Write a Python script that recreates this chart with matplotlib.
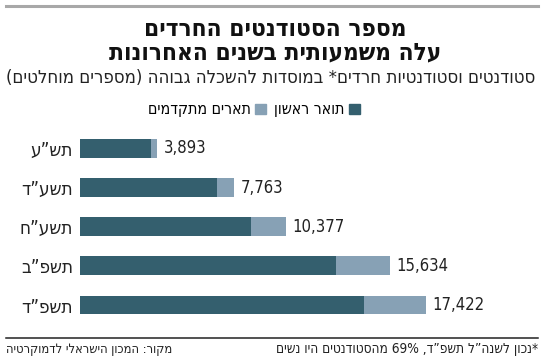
import re
import matplotlib
matplotlib.use("Agg")
import matplotlib.pyplot as plt
from matplotlib import font_manager as fm
from matplotlib.lines import Line2D
from matplotlib.patches import Patch

# data (top to bottom)
years = ["תש”ע", "תשע”ד", "תשע”ח", "תשפ”ב", "תשפ”ד"]
totals = [3893, 7763, 10377, 15634, 17422]
first_degree = [3575, 6898, 8595, 12890, 14315]
advanced = [t - f for t, f in zip(totals, first_degree)]

title = "מספר הסטודנטים החרדים\nעלה משמעותית בשנים האחרונות"
subtitle = "סטודנטים וסטודנטיות חרדים* במוסדות להשכלה גבוהה (מספרים מוחלטים)"
lbl_first = "תואר ראשון"
lbl_adv = "תארים מתקדמים"
source = "מקור: המכון הישראלי לדמוקרטיה"
note = "*נכון לשנה”ל תשפ”ד, 69% מהסטודנטים היו נשים"

DARK = "#345f6e"
LIGHT = "#87a1b5"


def find_cond(bold):
    # DejaVu Sans Condensed, upright, if it is installed
    for f in fm.fontManager.ttflist:
        if f.name != "DejaVu Sans" or f.stretch != "condensed" or f.style != "normal":
            continue
        if (f.weight == 700) == bold:
            return f.fname
    return None


COND = find_cond(False)
COND_B = find_cond(True)


def fp(size, bold=False):
    path = COND_B if bold else COND
    if path:
        return fm.FontProperties(fname=path, size=size)
    return fm.FontProperties(family=["Liberation Sans", "DejaVu Sans"], size=size,
                             weight="bold" if bold else "normal")


def rtl(s):
    # matplotlib has no bidi support: flip hebrew runs, keep numbers in order
    mirror = {"(": ")", ")": "(", "[": "]", "]": "["}
    out = []
    for line in s.split("\n"):
        runs = re.findall(r"[0-9][0-9,.]*%?|[^0-9]+", line)
        vis = []
        for r in reversed(runs):
            if r[0].isdigit():
                vis.append(r)
            else:
                vis.append("".join(mirror.get(c, c) for c in reversed(r)))
        out.append("".join(vis))
    return "\n".join(out)


fig = plt.figure(figsize=(5.5, 3.63), dpi=100)
W, H = 550, 363


def fx(px):
    return px / W


def fy(py):
    return 1 - py / H


# rules
fig.add_artist(Line2D([fx(6), fx(538)], [fy(5.5), fy(5.5)], color="#a8a8a8", lw=2.2))
fig.add_artist(Line2D([fx(6), fx(538)], [fy(337.5), fy(337.5)], color="#222222", lw=1.1))

fig.text(0.5, fy(41), rtl(title), ha="center", va="center",
         fontproperties=fp(17.5, bold=True), linespacing=0.95, color="#111111")
fig.text(fx(271), fy(78), rtl(subtitle), ha="center", va="center",
         fontproperties=fp(13.3), color="#222222")

ax = fig.add_axes([fx(80), fy(324.6), fx(400), 195.7 / H])
y = list(range(len(years)))
ax.barh(y, first_degree, height=0.48, color=DARK)
ax.barh(y, advanced, left=first_degree, height=0.48, color=LIGHT)
for yi, t in zip(y, totals):
    ax.annotate(f"{t:,}", (t, yi), xytext=(4.5, 0), textcoords="offset points",
                ha="left", va="center", fontproperties=fp(12), color="#222222")

ax.set_xlim(0, 400 / 0.01986)
ax.set_ylim(len(years) - 0.5, -0.5)
ax.set_yticks(y)
ax.set_yticklabels([rtl(s) for s in years], fontproperties=fp(13.5), color="#222222")
ax.tick_params(axis="y", length=0, pad=5)
ax.set_xticks([])
for sp in ax.spines.values():
    sp.set_visible(False)

handles = [Patch(color=LIGHT, label=rtl(lbl_adv)), Patch(color=DARK, label=rtl(lbl_first))]
fig.legend(handles=handles, loc="center", bbox_to_anchor=(fx(254), fy(110)), ncol=2,
           frameon=False, markerfirst=False, handlelength=0.7, handleheight=0.7,
           handletextpad=0.3, columnspacing=0.5, prop=fp(11.3),
           borderaxespad=0, borderpad=0)

fig.text(fx(6), fy(349), rtl(source), ha="left", va="center", fontproperties=fp(9.3),
         color="#222222")
fig.text(fx(538), fy(349), rtl(note), ha="right", va="center", fontproperties=fp(9.8),
         color="#222222")

fig.savefig("out.png", dpi=100)
